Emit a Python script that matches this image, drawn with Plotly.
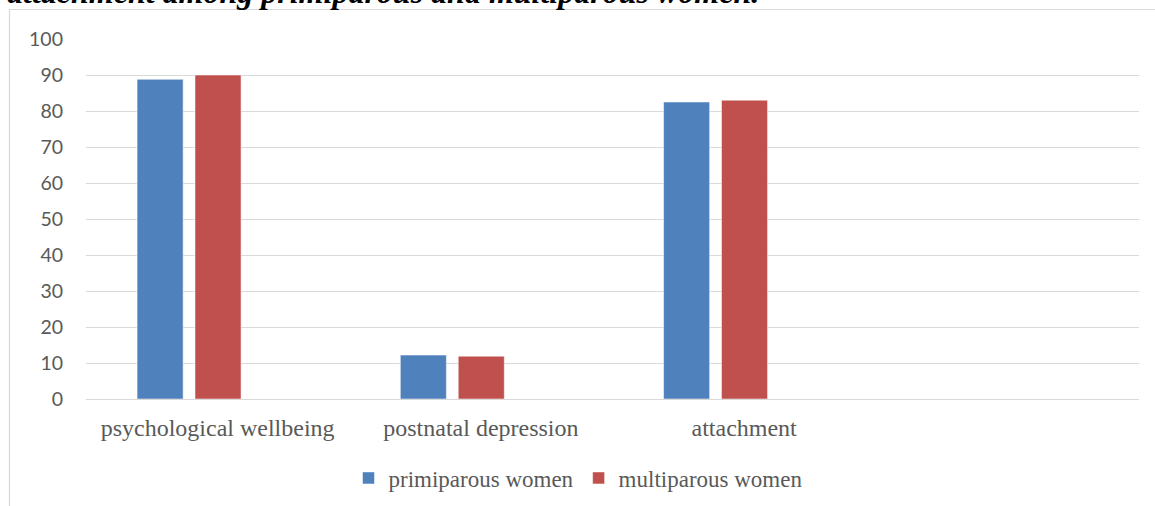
import plotly.graph_objects as go

categories = ["psychological wellbeing", "postnatal depression", "attachment"]
primiparous = [88.8, 12.2, 82.5]
multiparous = [90.0, 11.9, 83.0]
series_names = ["primiparous women", "multiparous women"]
title_text = "attachment among primiparous and multiparous women."

BLUE = "#4F81BD"
RED = "#C0504D"
GRID = "#D9D9D9"
TXT = "#595959"

W, H = 1155, 506
L, R, T, B = 86, 16, 39, 107
pw = W - L - R
ph = H - T - B

def px2paper_x(px):
    return (px - L) / pw

def px2paper_y(py):
    return (H - B - py) / ph

fig = go.Figure()
fig.add_trace(go.Bar(
    x=categories, y=primiparous, name=series_names[0],
    marker=dict(color=BLUE, line=dict(color="rgba(255,255,255,0.5)", width=1)),
    width=0.175, offset=-0.306,
))
fig.add_trace(go.Bar(
    x=categories, y=multiparous, name=series_names[1],
    marker=dict(color=RED, line=dict(color="rgba(255,255,255,0.5)", width=1)),
    width=0.175, offset=-0.086,
))

fig.update_layout(
    width=W, height=H,
    margin=dict(l=L, r=R, t=T, b=B, autoexpand=False),
    paper_bgcolor="white", plot_bgcolor="white",
    barmode="group",
    showlegend=True,
    legend=dict(
        orientation="h", x=px2paper_x(578), y=px2paper_y(478),
        xanchor="center", yanchor="middle",
        font=dict(family="Liberation Serif", size=23, color=TXT),
        bgcolor="rgba(0,0,0,0)", itemwidth=30,
    ),
    xaxis=dict(
        type="category", range=[-0.5, 3.5],
        showgrid=False, showline=False, zeroline=False, ticks="",
        tickfont=dict(family="Liberation Serif", size=24, color=TXT),
        ticklabelstandoff=12,
    ),
    yaxis=dict(
        range=[0, 100], dtick=10, tick0=0,
        showgrid=True, gridcolor=GRID, gridwidth=1.3,
        zeroline=True, zerolinecolor=GRID, zerolinewidth=1.3,
        showline=False, ticks="",
        tickfont=dict(family="Lato", size=19.5, color=TXT),
        ticklabelstandoff=22,
    ),
    shapes=[dict(
        type="rect", xref="paper", yref="paper",
        x0=px2paper_x(9.5), x1=px2paper_x(1170),
        y0=px2paper_y(520), y1=px2paper_y(9.5),
        line=dict(color=GRID, width=1.2), fillcolor="rgba(0,0,0,0)", layer="below",
    )],
    annotations=[dict(
        text="<b><i>" + title_text + "</i></b>",
        xref="paper", yref="paper",
        x=px2paper_x(5), y=px2paper_y(12.5),
        xanchor="left", yanchor="bottom", showarrow=False,
        font=dict(family="Liberation Serif", size=32, color="black"),
    )],
)

fig.write_html("out.html")
